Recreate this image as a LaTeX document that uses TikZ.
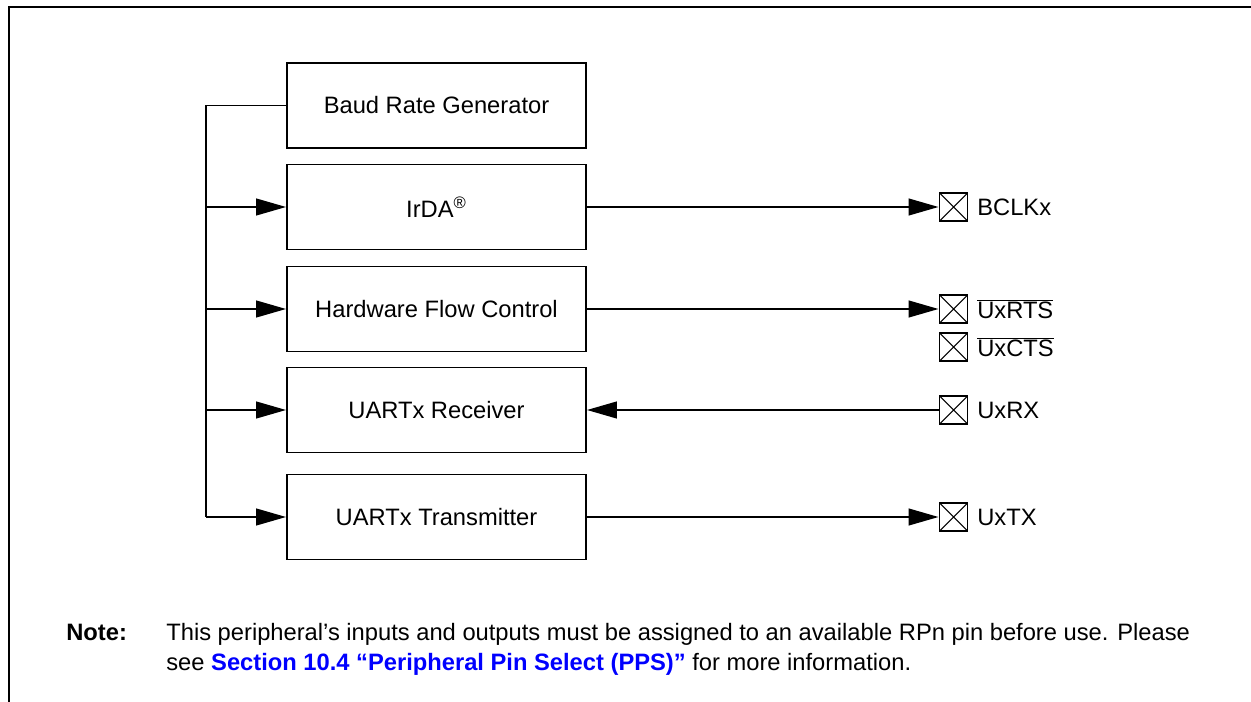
\documentclass[tikz,border=0pt]{standalone}
\usepackage{fontspec}
\setmainfont{Liberation Sans}
\usetikzlibrary{arrows.meta,positioning}
\definecolor{linkblue}{RGB}{0,0,255}
\tikzset{
  wire/.style={line width=1.1pt},
  block/.style={draw, line width=1.1pt, minimum width=5.98cm, minimum height=1.70cm, inner sep=0pt},
  pad/.style={draw, line width=1.1pt, minimum size=0.56cm, inner sep=0pt,
    path picture={\draw[line width=0.6pt] (path picture bounding box.north west) -- (path picture bounding box.south east)
      (path picture bounding box.north east) -- (path picture bounding box.south west);}},
  padlabel/.style={inner sep=0pt, right=0.17cm of #1},
}
\begin{document}
\begin{tikzpicture}[x=0.02cm, y=-0.02cm, >={Triangle[length=17pt,width=9.5pt]},
    font=\fontsize{13.5}{17}\selectfont]
\useasboundingbox (0,0) rectangle (1251,702);
\draw[wire] (9,702) -- (9,7) -- (1251,7);

% blocks
\node[block] (baud) at (436.5,105.5) {Baud Rate Generator};
\node[block] (irda) at (436.5,207) {IrDA\textsuperscript{®}};
\node[block] (flow) at (436.5,309) {Hardware Flow Control};
\node[block] (rx) at (436.5,410) {UARTx Receiver};
\node[block] (tx) at (436.5,517) {UARTx Transmitter};

% pins
\node[pad] (bclk) at (953.5,207) {};
\node[pad] (rts) at (953.5,309) {};
\node[pad] (cts) at (953.5,347) {};
\node[pad] (urx) at (953.5,410) {};
\node[pad] (utx) at (953.5,517) {};
\node[padlabel=bclk] {BCLKx};
\node[padlabel=rts] {\(\overline{\mbox{UxRTS}}\)};
\node[padlabel=cts] {\(\overline{\mbox{UxCTS}}\)};
\node[padlabel=urx] {UxRX};
\node[padlabel=utx] {UxTX};

% clock bus
\coordinate (bus) at (206,517);
\draw[wire] (baud.west) -- (baud.west -| bus) -- (bus);
\foreach \b in {irda,flow,rx,tx}
  \draw[wire,->] (\b.west -| bus) -- (\b.west);

\draw[wire,->] (irda) -- (bclk);
\draw[wire,->] (flow) -- (rts);
\draw[wire,->] (urx) -- (rx);
\draw[wire,->] (tx) -- (utx);

% note
\node[anchor=base west, inner sep=0pt, font=\fontsize{13.5}{17}\selectfont\bfseries] (note) at (66,640) {Note:};
\node[anchor=base west, inner sep=0pt] (notea) at (166,640) {This peripheral’s inputs and outputs must be assigned to an available RPn pin before use. Please};
\node[anchor=base west, inner sep=0pt] (noteb) at (166,670) {see \textcolor{linkblue}{\bfseries Section 10.4 “Peripheral Pin Select (PPS)”} for more information.};
\end{tikzpicture}
\end{document}
